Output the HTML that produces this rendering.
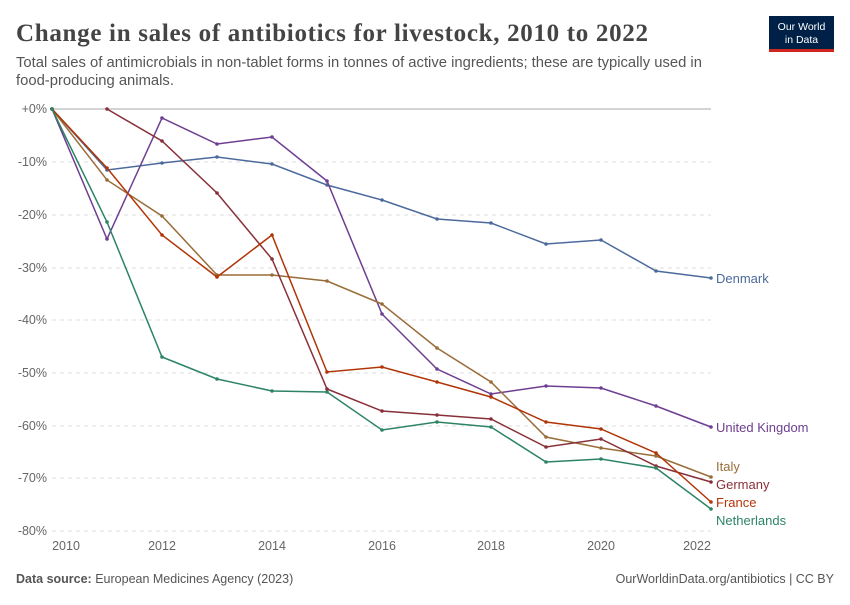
<!DOCTYPE html>
<html><head><meta charset="utf-8"><style>
body{margin:0;background:#fff;width:850px;height:600px;overflow:hidden;font-family:"Liberation Sans",sans-serif}
</style></head><body>
<svg width="850" height="600" xmlns="http://www.w3.org/2000/svg" font-family="Liberation Sans, sans-serif">
<text x="16" y="41" font-family="Liberation Serif, serif" font-size="25" font-weight="bold" fill="#444" textLength="632">Change in sales of antibiotics for livestock, 2010 to 2022</text>
<text x="16" y="67" font-size="14.8" fill="#555">Total sales of antimicrobials in non-tablet forms in tonnes of active ingredients; these are typically used in</text>
<text x="16" y="85" font-size="14.8" fill="#555">food-producing animals.</text>
<rect x="769" y="16" width="65" height="36" fill="#002147"/>
<rect x="769" y="49" width="65" height="3" fill="#ce261e"/>
<text x="801.5" y="30" font-size="10.5" fill="#fff" text-anchor="middle">Our World</text>
<text x="801.5" y="43" font-size="10.5" fill="#fff" text-anchor="middle">in Data</text>
<g stroke="#ddd" stroke-dasharray="4,4" stroke-width="1">
<line x1="52" x2="711" y1="162" y2="162"/><line x1="52" x2="711" y1="215" y2="215"/><line x1="52" x2="711" y1="268" y2="268"/><line x1="52" x2="711" y1="320" y2="320"/><line x1="52" x2="711" y1="373" y2="373"/><line x1="52" x2="711" y1="426" y2="426"/><line x1="52" x2="711" y1="478" y2="478"/><line x1="52" x2="711" y1="531" y2="531"/>
</g>
<line x1="52" x2="711" y1="109" y2="109" stroke="#aaa"/>
<g font-size="12.5" fill="#666" text-anchor="end">
<text x="47" y="113">+0%</text><text x="47" y="166">-10%</text><text x="47" y="219">-20%</text><text x="47" y="272">-30%</text><text x="47" y="324">-40%</text><text x="47" y="377">-50%</text><text x="47" y="430">-60%</text><text x="47" y="482">-70%</text><text x="47" y="535">-80%</text>
</g>
<g font-size="12.5" fill="#666" text-anchor="middle">
<text x="66" y="550">2010</text><text x="162" y="550">2012</text><text x="272" y="550">2014</text><text x="382" y="550">2016</text><text x="491" y="550">2018</text><text x="601" y="550">2020</text><text x="697" y="550">2022</text>
</g>
<g fill="none" stroke-width="1.5" marker-start="url(#m)">
<polyline stroke="#4C6A9C" points="52,109 107,170 162,163 217,157 272,164 327,185 382,200 437,219 491,223 546,244 601,240 656,271 711,278"/>
<polyline stroke="#6D3E91" points="52,109 107,239 162,118 217,144 272,137 327,181 382,314 437,369 491,394 546,386 601,388 656,406 711,427"/>
<polyline stroke="#996D39" points="52,109 107,180 162,216 217,275 272,275 327,281 382,304 437,348 491,382 546,437 601,448 656,456 711,477"/>
<polyline stroke="#883039" points="107,109 162,141 217,193 272,259 327,389 382,411 437,415 491,419 546,447 601,439 656,466 711,482"/>
<polyline stroke="#B13507" points="52,109 107,168 162,235 217,277 272,235 327,372 382,367 437,382 491,397 546,422 601,429 656,453 711,502"/>
<polyline stroke="#2C8465" points="52,109 107,222 162,357 217,379 272,391 327,392 382,430 437,422 491,427 546,462 601,459 656,468 711,509"/>
</g>
<defs><marker id="m" markerWidth="4" markerHeight="4" refX="2" refY="2" markerUnits="userSpaceOnUse"><circle cx="2" cy="2" r="1.8" fill="context-stroke"/></marker></defs>
<style>polyline{marker-start:url(#m);marker-mid:url(#m);marker-end:url(#m)}</style>
<g font-size="13">
<text x="716" y="283" fill="#4C6A9C">Denmark</text>
<text x="716" y="432" fill="#6D3E91">United Kingdom</text>
<text x="716" y="471" fill="#996D39">Italy</text>
<text x="716" y="489" fill="#883039">Germany</text>
<text x="716" y="507" fill="#B13507">France</text>
<text x="716" y="525" fill="#2C8465">Netherlands</text>
</g>
<text x="16" y="583" font-size="12.5" fill="#555"><tspan font-weight="bold">Data source:</tspan> European Medicines Agency (2023)</text>
<text x="834" y="583" font-size="12.5" fill="#555" text-anchor="end">OurWorldinData.org/antibiotics | CC BY</text>
</svg>
</body></html>
